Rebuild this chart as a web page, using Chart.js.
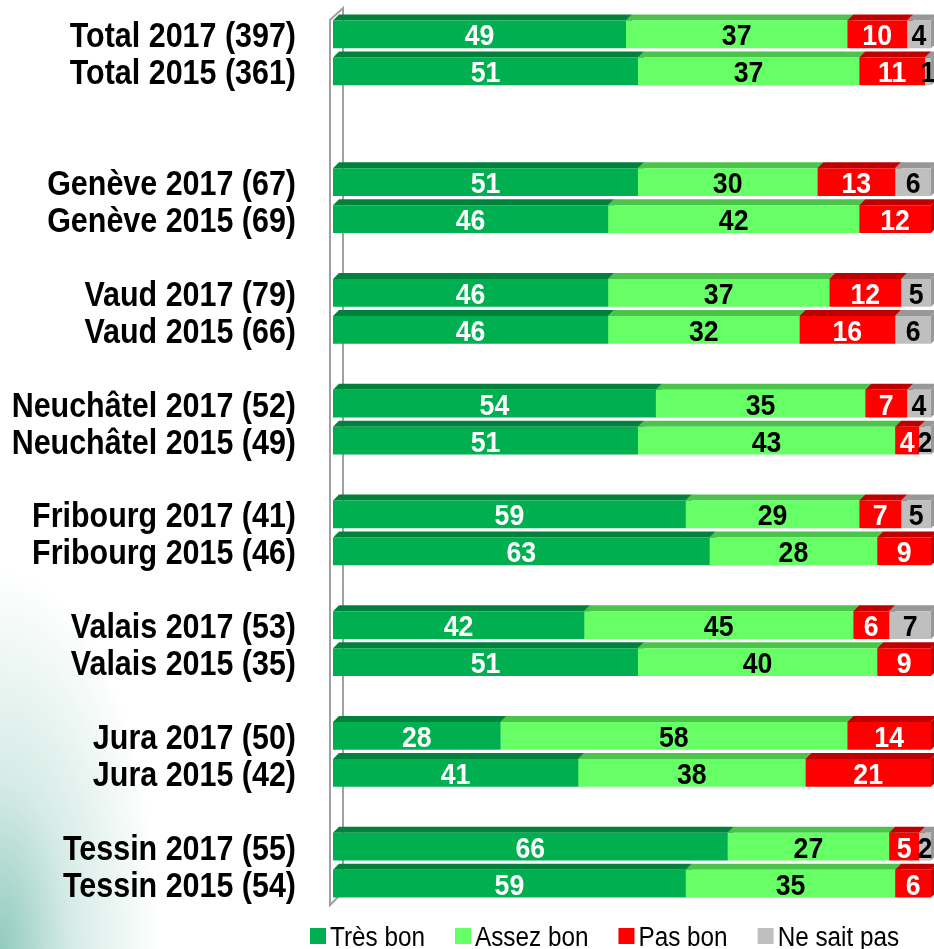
<!DOCTYPE html>
<html>
<head>
<meta charset="utf-8">
<script src="https://cdn.jsdelivr.net/npm/chart.js@4"></script>
<style>
  html, body { margin: 0; padding: 0; }
  body {
    width: 934px; height: 949px; overflow: hidden;
    background:
      radial-gradient(ellipse 160px 380px at 0% 100%, rgba(110,185,170,0.75) 0%, rgba(165,212,200,0.45) 45%, rgba(255,255,255,0) 100%),
      #ffffff;
  }
  #wrap { position: relative; width: 934px; height: 949px; }
</style>
</head>
<body>
<div id="wrap"><canvas id="chart" width="934" height="949"></canvas></div>
<script>
// Data ('' rows are the gaps between regions)
const categories = [
  'Total 2017 (397)', 'Total 2015 (361)', '', '',
  'Genève 2017 (67)', 'Genève 2015 (69)', '',
  'Vaud 2017 (79)', 'Vaud 2015 (66)', '',
  'Neuchâtel 2017 (52)', 'Neuchâtel 2015 (49)', '',
  'Fribourg 2017 (41)', 'Fribourg 2015 (46)', '',
  'Valais 2017 (53)', 'Valais 2015 (35)', '',
  'Jura 2017 (50)', 'Jura 2015 (42)', '',
  'Tessin 2017 (55)', 'Tessin 2015 (54)'
];
const seriesNames = ['Très bon', 'Assez bon', 'Pas bon', 'Ne sait pas'];
const tresBon   = [49, 51, null, null, 51, 46, null, 46, 46, null, 54, 51, null, 59, 63, null, 42, 51, null, 28, 41, null, 66, 59];
const assezBon  = [37, 37, null, null, 30, 42, null, 37, 32, null, 35, 43, null, 29, 28, null, 45, 40, null, 58, 38, null, 27, 35];
const pasBon    = [10, 11, null, null, 13, 12, null, 12, 16, null, 7, 4, null, 7, 9, null, 6, 9, null, 14, 21, null, 5, 6];
const neSaitPas = [4, 1, null, null, 6, null, null, 5, 6, null, 4, 2, null, 5, null, null, 7, null, null, null, null, null, 2, null];

const frontColors = ['#00B050', '#66FF66', '#FF0000', '#BFBFBF'];
const topColors   = ['#00823C', '#4CC44C', '#C00000', '#989898'];
const labelColors = ['#FFFFFF', '#000000', '#FFFFFF', '#000000'];
const FONT = "'Liberation Sans', Arial, sans-serif";
const D = 6; // depth of the 3D faces

function barBox(bar) {
  const p = bar.getProps(['x', 'y', 'base', 'height'], true);
  return {
    x0: Math.min(p.base, p.x), x1: Math.max(p.base, p.x),
    top: p.y - p.height / 2, bot: p.y + p.height / 2, y: p.y
  };
}

// Arial squeezed horizontally, close to Arial Narrow
function narrowText(ctx, text, x, y, align, sx) {
  ctx.save();
  ctx.translate(x, y);
  ctx.scale(sx, 1);
  ctx.textAlign = align;
  ctx.fillText(text, 0, 0);
  ctx.restore();
}

// grey 3D wall on the left
const wall = {
  id: 'wall',
  beforeDatasetsDraw(chart) {
    const { ctx, chartArea: a } = chart;
    ctx.save();
    ctx.strokeStyle = '#A0A0A0';
    ctx.lineWidth = 2;
    ctx.beginPath();
    ctx.moveTo(a.left - 3, a.top + 4);
    ctx.lineTo(a.left + 10, a.top - 8);
    ctx.lineTo(a.left + 10, a.bottom - 10);
    ctx.lineTo(a.left - 3, a.bottom + 3);
    ctx.closePath();
    ctx.stroke();
    ctx.restore();
  }
};

// darker top and side faces behind each bar
const threeD = {
  id: 'threeD',
  beforeDatasetsDraw(chart) {
    const ctx = chart.ctx;
    ctx.save();
    chart.data.datasets.forEach((ds, i) => {
      chart.getDatasetMeta(i).data.forEach((bar, j) => {
        if (!ds.data[j]) return;
        const b = barBox(bar);
        ctx.fillStyle = topColors[i];
        ctx.beginPath();
        ctx.moveTo(b.x1, b.top);
        ctx.lineTo(b.x1 + D, b.top - D);
        ctx.lineTo(b.x1 + D, b.bot - D);
        ctx.lineTo(b.x1, b.bot);
        ctx.closePath();
        ctx.fill();
        ctx.beginPath();
        ctx.moveTo(b.x0, b.top);
        ctx.lineTo(b.x0 + D, b.top - D);
        ctx.lineTo(b.x1 + D, b.top - D);
        ctx.lineTo(b.x1, b.top);
        ctx.closePath();
        ctx.fill();
      });
    });
    ctx.restore();
  }
};

// category names left of the wall
const rowLabels = {
  id: 'rowLabels',
  afterDraw(chart) {
    const { ctx, chartArea: a } = chart;
    const yScale = chart.scales.y;
    ctx.save();
    ctx.font = 'bold 35px ' + FONT;
    ctx.fillStyle = '#000000';
    ctx.textBaseline = 'alphabetic';
    chart.data.labels.forEach((lab, i) => {
      if (!lab) return;
      narrowText(ctx, lab, a.left - 37, yScale.getPixelForValue(i) + 13, 'right', 0.87);
    });
    ctx.restore();
  }
};

// value labels inside the segments
const valueLabels = {
  id: 'valueLabels',
  afterDatasetsDraw(chart) {
    const ctx = chart.ctx;
    ctx.save();
    ctx.font = 'bold 29px ' + FONT;
    ctx.textBaseline = 'alphabetic';
    chart.data.datasets.forEach((ds, i) => {
      chart.getDatasetMeta(i).data.forEach((bar, j) => {
        const v = ds.data[j];
        if (!v) return;
        const b = barBox(bar);
        ctx.fillStyle = labelColors[i];
        narrowText(ctx, String(v), (b.x0 + b.x1) / 2, b.y + 11, 'center', 0.92);
      });
    });
    ctx.restore();
  }
};

// legend under the plot
const bottomLegend = {
  id: 'bottomLegend',
  afterDraw(chart) {
    const { ctx, chartArea: a } = chart;
    ctx.save();
    ctx.font = '27px ' + FONT;
    ctx.textBaseline = 'alphabetic';
    const box = 16, gap = 4, spacing = 30, sx = 0.9;
    let x = a.left - 23;
    const y = a.bottom + 34;
    seriesNames.forEach((n, i) => {
      ctx.fillStyle = frontColors[i];
      ctx.fillRect(x, y - box / 2, box, box);
      ctx.fillStyle = '#000000';
      narrowText(ctx, n, x + box + gap, y + 10, 'left', sx);
      x += box + gap + ctx.measureText(n).width * sx + spacing;
    });
    ctx.restore();
  }
};

const seriesData = [tresBon, assezBon, pasBon, neSaitPas];

new Chart(document.getElementById('chart').getContext('2d'), {
  type: 'bar',
  data: {
    labels: categories,
    datasets: seriesNames.map((name, i) => ({
      label: name,
      data: seriesData[i],
      backgroundColor: frontColors[i],
      borderWidth: 0,
      barPercentage: 0.75,
      categoryPercentage: 1
    }))
  },
  options: {
    indexAxis: 'y',
    responsive: false,
    animation: false,
    layout: { padding: { top: 16, right: 3, bottom: 47, left: 0 } },
    plugins: {
      legend: { display: false },
      tooltip: { enabled: false }
    },
    scales: {
      x: { stacked: true, min: 0, max: 100, display: false },
      y: {
        stacked: true,
        grid: { display: false, drawTicks: false },
        border: { display: false },
        ticks: { display: false },
        afterFit(scale) {
          scale.width = 333;
          scale.paddingTop = 0;
          scale.paddingBottom = 0;
        }
      }
    }
  },
  plugins: [wall, threeD, valueLabels, rowLabels, bottomLegend]
});
</script>
</body>
</html>
